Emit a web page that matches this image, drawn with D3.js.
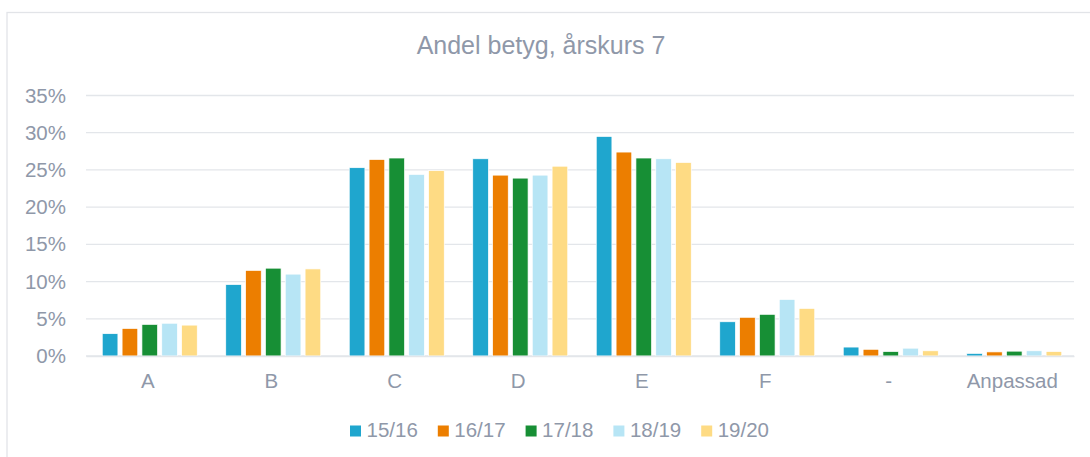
<!DOCTYPE html>
<html>
<head>
	<script src="https://d3js.org/d3.v7.min.js"></script>
	<meta charset="UTF-8">
	<style>
		body{ margin:0; background-color:#fff; }
		text{ font-family:"Liberation Sans", Arial, sans-serif; fill:#8f98a9; }
	</style>
</head>
<body>
	<script type="text/javascript">
		// data
		var categories = ["A", "B", "C", "D", "E", "F", "-", "Anpassad"];
		var seriesNames = ["15/16", "16/17", "17/18", "18/19", "19/20"];
		var colors = ["#1fa6ce", "#ec7e00", "#178f35", "#b7e5f5", "#fedb84"];
		var s1516 = [3.0, 9.6, 25.3, 26.5, 29.5, 4.6, 1.2, 0.35];
		var s1617 = [3.7, 11.5, 26.4, 24.3, 27.4, 5.2, 0.9, 0.55];
		var s1718 = [4.25, 11.8, 26.6, 23.9, 26.6, 5.6, 0.6, 0.65];
		var s1819 = [4.4, 11.0, 24.4, 24.3, 26.5, 7.6, 1.05, 0.7];
		var s1920 = [4.15, 11.7, 24.9, 25.5, 26.0, 6.4, 0.7, 0.6];
		var yTicks = [0, 5, 10, 15, 20, 25, 30, 35];
		var title = "Andel betyg, årskurs 7";

		var series = [s1516, s1617, s1718, s1819, s1920];

		var w = 1090, h = 457;
		var plotL = 86, plotR = 1074, plotT = 95.5, plotB = 356;

		var svg = d3.select("body").append("svg").attr("width", w).attr("height", h);

		// frame
		svg.append("rect").attr("x", 7).attr("y", 12.5).attr("width", 1100).attr("height", 460)
			.attr("fill", "none").attr("stroke", "#e2e4e8").attr("stroke-width", 1.3);

		var xScale = d3.scaleBand().domain(categories).range([plotL, plotR]);
		var inner = d3.scaleBand().domain(seriesNames).range([0, 95]).paddingInner(4 / 19).paddingOuter(0);
		var yScale = d3.scaleLinear().domain([0, 35]).range([plotB, plotT]);

		// gridlines
		svg.append("g").selectAll("line").data(yTicks).enter().append("line")
			.attr("x1", plotL).attr("x2", plotR)
			.attr("y1", function(d){ return yScale(d); }).attr("y2", function(d){ return yScale(d); })
			.attr("stroke", "#e3e6ea").attr("stroke-width", 1.3);

		// y axis labels
		var yAxis = d3.axisLeft(yScale).tickValues(yTicks).tickSize(0).tickPadding(0)
			.tickFormat(function(d){ return d + "%"; });
		var gy = svg.append("g").attr("transform", "translate(66,0)").call(yAxis);
		gy.select(".domain").remove();
		gy.selectAll("text").style("font-size", "20.5px").attr("fill", "#8f98a9")
			.attr("font-family", "Liberation Sans, Arial, sans-serif");

		// bars
		var groups = svg.append("g").selectAll("g").data(categories).enter().append("g")
			.attr("transform", function(d){ return "translate(" + (xScale(d) + (xScale.bandwidth() - 91) / 2 - 2) + ",0)"; });
		groups.selectAll("rect").data(function(d, i){
				return series.map(function(s, j){ return {name: seriesNames[j], v: s[i], c: colors[j]}; });
			}).enter().append("rect")
			.attr("x", function(d){ return inner(d.name) + 2; })
			.attr("width", inner.bandwidth())
			.attr("y", function(d){ return yScale(d.v); })
			.attr("height", function(d){ return plotB - yScale(d.v); })
			.attr("fill", function(d){ return d.c; })
			.attr("stroke", "#fff").attr("stroke-width", 0.7);

		// x axis labels
		var xAxis = d3.axisBottom(xScale).tickSize(0).tickPadding(17);
		var gx = svg.append("g").attr("transform", "translate(0," + plotB + ")").call(xAxis);
		gx.select(".domain").attr("stroke", "#e3e6ea").attr("stroke-width", 1.3);
		gx.selectAll("text").style("font-size", "20.5px").attr("fill", "#8f98a9")
			.attr("font-family", "Liberation Sans, Arial, sans-serif");

		// title
		svg.append("text").attr("x", 541).attr("y", 54).attr("text-anchor", "middle")
			.style("font-size", "25px").text(title);

		// legend
		var legend = svg.append("g").selectAll("g").data(seriesNames).enter().append("g")
			.attr("transform", function(d, i){ return "translate(" + (350 + i * 87.8) + ",425.5)"; });
		legend.append("rect").attr("width", 11).attr("height", 11)
			.attr("fill", function(d, i){ return colors[i]; });
		legend.append("text").attr("x", 16.5).attr("y", 11.5)
			.style("font-size", "20.5px").text(function(d){ return d; });
	</script>
</body>
</html>
